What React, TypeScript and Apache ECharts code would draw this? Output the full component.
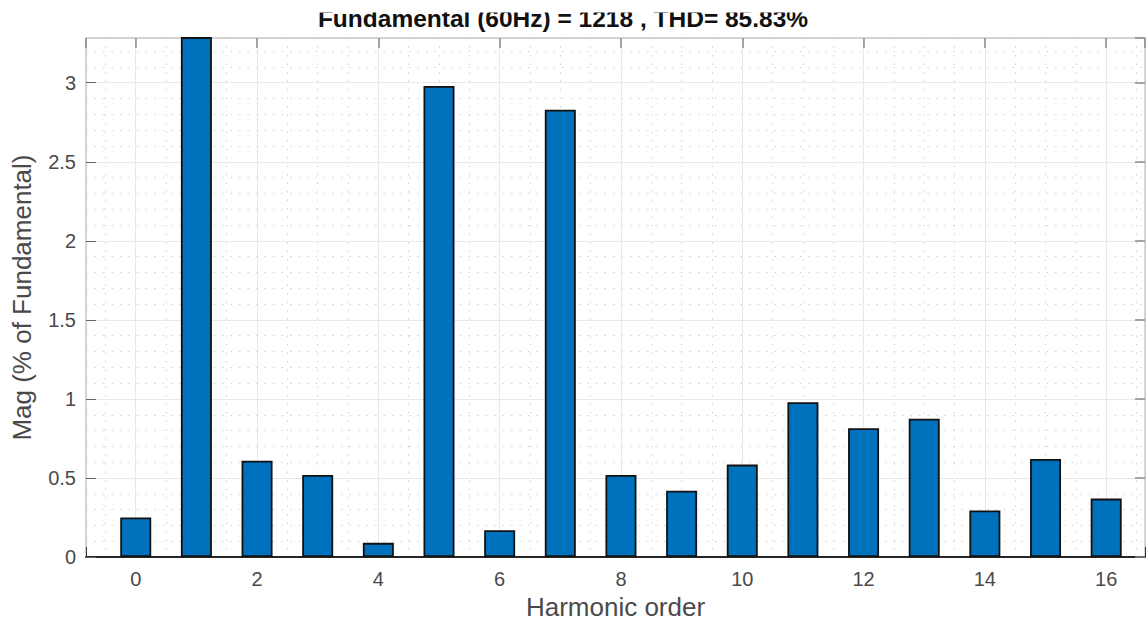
import React, { useEffect, useRef } from "react";
import * as echarts from "echarts";

const harmonicOrders = [0, 1, 2, 3, 4, 5, 6, 7, 8, 9, 10, 11, 12, 13, 14, 15, 16];
const magnitudes = [0.25, 100, 0.61, 0.52, 0.09, 2.98, 0.17, 2.83, 0.52, 0.42, 0.585, 0.98, 0.815, 0.875, 0.295, 0.62, 0.37];
const titleText = "Fundamental (60Hz) = 1218 , THD= 85.83%";
const xName = "Harmonic order";
const yName = "Mag (% of Fundamental)";
const xMin = -0.82;
const xMax = 16.64;
const yMin = 0;
const yMax = 3.283;

const FONT = "'Liberation Sans', Arial, Helvetica, sans-serif";

export default function App() {
  const ref = useRef<HTMLDivElement>(null);
  useEffect(() => {
    if (!ref.current) return;
    const chart = echarts.init(ref.current, undefined, { renderer: "svg" });
    const xLabelFmt = (v: number) => (Math.abs(v - Math.round(v)) < 1e-6 ? String(Math.round(v)) : "");
    const yLabelFmt = (v: number) => (Math.abs(v * 2 - Math.round(v * 2)) < 1e-6 ? String(v) : "");
    chart.setOption({
      animation: false,
      backgroundColor: "#ffffff",
      textStyle: { fontFamily: FONT },
      grid: { left: 86, right: 1, top: 38, bottom: 65, containLabel: false },
      graphic: [
        {
          type: "text",
          x: 563,
          y: 31,
          z: 100,
          style: {
            text: titleText,
            font: `bold 24.5px ${FONT}`,
            fill: "#111111",
            align: "center",
            verticalAlign: "bottom",
          },
        },
        {
          type: "rect",
          z: 101,
          shape: { x: 250, y: 0, width: 650, height: 12.5 },
          style: { fill: "#ffffff" },
        },
      ],
      xAxis: [
        {
          type: "value",
          min: xMin,
          max: xMax,
          minInterval: 2,
          maxInterval: 2,
          splitNumber: 8,
          position: "bottom",
          name: xName,
          nameLocation: "middle",
          nameGap: 33,
          nameTextStyle: { fontSize: 26, color: "#4a4a4a", fontFamily: FONT },
          axisLine: { show: true, onZero: false, lineStyle: { color: "#262626", width: 1.8 } },
          axisTick: { show: true, inside: true, length: 10, lineStyle: { color: "#333333", width: 1 } },
          axisLabel: { show: true, fontSize: 20, color: "#4a4a4a", margin: 12, formatter: xLabelFmt, fontFamily: FONT },
          splitLine: { show: true, lineStyle: { color: "#e8e8e8", width: 1 } },
          minorTick: { show: false, splitNumber: 4 },
          minorSplitLine: { show: true, lineStyle: { color: "#d2d2d2", width: 1, type: [1.5, 7] } },
        },
        {
          type: "value",
          min: xMin,
          max: xMax,
          minInterval: 2,
          maxInterval: 2,
          splitNumber: 8,
          position: "top",
          axisLine: { show: true, onZero: false, lineStyle: { color: "#c8c8c8", width: 1.5 } },
          axisTick: { show: true, inside: true, length: 10, lineStyle: { color: "#8a8a8a", width: 1.5 } },
          axisLabel: { show: false },
          splitLine: { show: false },
        },
      ],
      yAxis: [
        {
          type: "value",
          min: yMin,
          max: yMax,
          interval: 0.5,
          position: "left",
          name: yName,
          nameLocation: "middle",
          nameGap: 51,
          nameTextStyle: { fontSize: 26, color: "#4a4a4a", fontFamily: FONT },
          axisLine: { show: true, onZero: false, lineStyle: { color: "#c8c8c8", width: 1.5 } },
          axisTick: { show: true, inside: true, length: 10, lineStyle: { color: "#666666", width: 1 } },
          axisLabel: { show: true, fontSize: 20, color: "#4a4a4a", margin: 10, formatter: yLabelFmt, showMaxLabel: false, fontFamily: FONT },
          splitLine: { show: true, lineStyle: { color: "#e8e8e8", width: 1 } },
          minorTick: { show: false, splitNumber: 5 },
          minorSplitLine: { show: true, lineStyle: { color: "#d2d2d2", width: 1, type: [1.5, 7] } },
        },
        {
          type: "value",
          min: yMin,
          max: yMax,
          interval: 0.5,
          position: "right",
          axisLine: { show: true, onZero: false, lineStyle: { color: "#c8c8c8", width: 1.5 } },
          axisTick: { show: true, inside: true, length: 10, lineStyle: { color: "#8a8a8a", width: 1.5 } },
          axisLabel: { show: false },
          splitLine: { show: false },
        },
      ],
      series: [
        {
          type: "bar",
          xAxisIndex: 0,
          yAxisIndex: 0,
          clip: true,
          barWidth: 31,
          data: harmonicOrders.map((h, i) => [h, magnitudes[i]]),
          itemStyle: { color: "#0072BD", borderColor: "#111111", borderWidth: 1.8 },
          z: 3,
        },
      ],
    });
    return () => chart.dispose();
  }, []);
  return (
    <div
      ref={ref}
      style={{ position: "absolute", left: 0, top: 0, width: 1148, height: 625 }}
    />
  );
}
